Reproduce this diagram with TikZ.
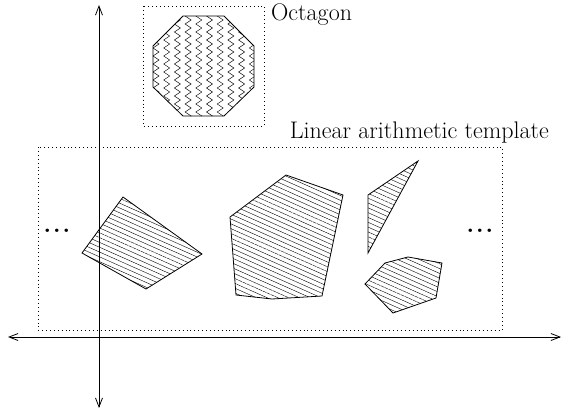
\documentclass[tikz,border=0pt]{standalone}
\usetikzlibrary{arrows.meta,patterns.meta,decorations.pathmorphing}
\tikzset{
  axis/.style={line width=0.8pt,{Straight Barb[length=9pt,width=7pt]}-{Straight Barb[length=9pt,width=7pt]}},
  dotbox/.style={line width=0.9pt,dash pattern=on 0.9pt off 3pt},
  poly/.style={line width=0.8pt,line join=miter},
  hatch/.style={pattern={Lines[angle=-24,distance=4.4pt,line width=0.4pt]}},
  lbl/.style={font=\fontsize{24}{28}\selectfont,inner sep=0pt},
  dots/.style={font=\fontsize{24}{28}\selectfont\bfseries,inner sep=0pt}
}
\begin{document}
\begin{tikzpicture}[x=1pt,y=-1pt]
\useasboundingbox (0,0) rectangle (563,410);
% axes
\coordinate (ytop) at (99,5);
\coordinate (ybot) at (99,408);
\coordinate (xl) at (8,337);
\coordinate (xr) at (561,337);
\draw[axis] (ytop) -- (ybot);
\draw[axis] (xl) -- (xr);
% boxes
\draw[dotbox] (143,6) rectangle (264,126);
\draw[dotbox] (38,147) rectangle (502,330);
\node[lbl,anchor=west] (oct) at (271,15) {Octagon};
\node[lbl,anchor=east] (lat) at (549,133) {Linear arithmetic template};
% octagon with zigzags
\begin{scope}
\clip (183,16) -- (224,16) -- (254,46) -- (254,87) -- (224,116) -- (183,116) -- (153,87) -- (153,46) -- cycle;
\foreach \x in {156,166.7,177.4,188.1,198.8,209.5,220.2,230.9,241.6,252.3}
  \draw[line width=0.45pt,decorate,decoration={zigzag,segment length=8pt,amplitude=3pt}] (\x,10) -- (\x,124);
\end{scope}
\draw[poly] (183,16) -- (224,16) -- (254,46) -- (254,87) -- (224,116) -- (183,116) -- (153,87) -- (153,46) -- cycle;
% polygons
\draw[poly,hatch] (123,197) -- (202,254) -- (146,289) -- (82,253) -- cycle;
\draw[poly,hatch] (286,175) -- (343,195) -- (322,296) -- (272,299) -- (236,295) -- (230,217) -- cycle;
\draw[poly,hatch] (418,161) -- (368,253) -- (368,195) -- cycle;
\draw[poly,hatch] (365,284) -- (385,263) -- (408,257) -- (442,263) -- (436,298) -- (393,313) -- cycle;
% dots
\node[dots,anchor=base] (dl) at (57,232) {.\kern2pt.\kern2pt.};
\node[dots,anchor=base] (dr) at (480,232) {.\kern2pt.\kern2pt.};
\end{tikzpicture}
\end{document}
